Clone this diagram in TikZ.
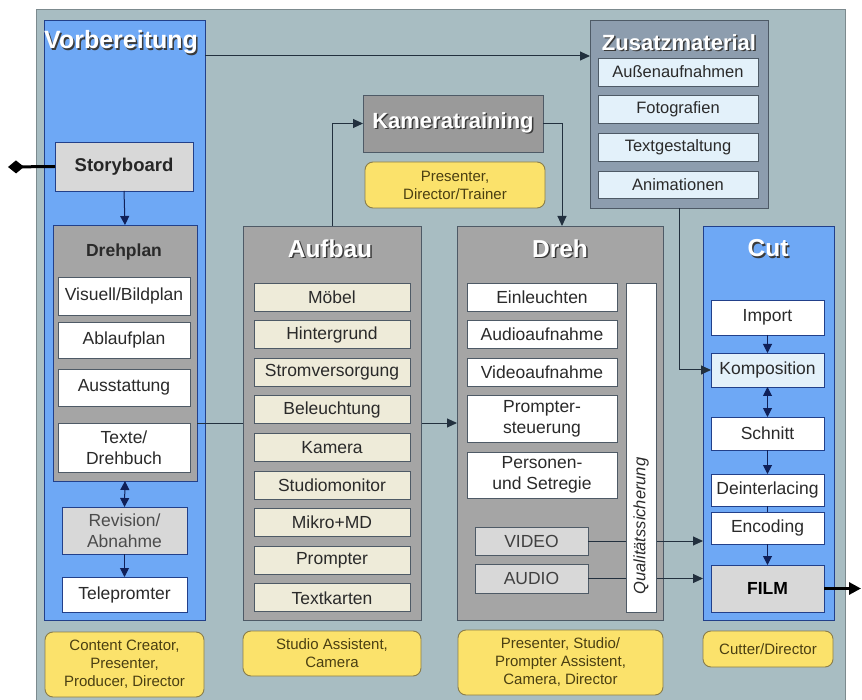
\documentclass[tikz,border=0pt]{standalone}
\usepackage{fontspec}
\setmainfont{Liberation Sans}
\usetikzlibrary{arrows.meta,calc}
\definecolor{bgc}{HTML}{A8BDC2}
\definecolor{bgborder}{HTML}{7C8A8E}
\definecolor{bluec}{HTML}{6EA8F5}
\definecolor{blueborder}{HTML}{22408A}
\definecolor{grayc}{HTML}{A5A5A5}
\definecolor{grayborder}{HTML}{4E5A66}
\definecolor{ktc}{HTML}{9A9A9A}
\definecolor{zusc}{HTML}{8D9DAE}
\definecolor{zusitem}{HTML}{E3F1FA}
\definecolor{creamc}{HTML}{EEEBD9}
\definecolor{lgray}{HTML}{D8D8D8}
\definecolor{yellowc}{HTML}{FBE26B}
\definecolor{yellowborder}{HTML}{8A7D4A}
\definecolor{yellowtext}{HTML}{4A3F12}
\definecolor{textc}{HTML}{2A2A2A}
\definecolor{linec}{HTML}{22303E}
\definecolor{navy}{HTML}{102058}
\definecolor{shadowc}{HTML}{3A3A3A}
\newcommand\shd[1]{\rlap{\kern1.5pt\raisebox{-1.5pt}{\color{shadowc}#1}}#1}
\begin{document}
\begin{tikzpicture}[x=1pt,y=-1pt,
  box/.style={draw=#1, line width=0.8pt, inner sep=1pt, outer sep=0pt, align=center, text=textc},
  box/.default=grayborder,
  itemf/.style={font=\fontsize{17.5}{21}\selectfont},
  zusf/.style={font=\fontsize{16.5}{19}\selectfont},
  yel/.style={draw=yellowborder, fill=yellowc, line width=0.9pt, rounded corners=8pt, inner sep=1pt, outer sep=0pt, align=center, text=yellowtext, font=\fontsize{15}{18}\selectfont},
  ttl/.style={text=white, inner sep=0pt, font=\bfseries\fontsize{24.5}{28}\selectfont},
  arr/.style={draw=linec, line width=1pt, -{Triangle[length=10pt,width=9pt]}},
  carr/.style={draw=navy, line width=1pt, -{Triangle[length=9pt,width=9pt]}},
  dcarr/.style={draw=navy, line width=1pt, {Triangle[length=9pt,width=9pt]}-{Triangle[length=9pt,width=9pt]}}
]
\useasboundingbox (0,0) rectangle (862,700);
\path[fill=bgc, draw=bgborder, line width=1pt] (36,10) rectangle (845,704);

% ---------- Vorbereitung ----------
\node[box=blueborder, fill=bluec, minimum width=161pt, minimum height=600pt] (vb) at (124.5,320) {};
\node[ttl, anchor=west, font=\bfseries\fontsize{25}{28}\selectfont] (vbt) at (44,43) {\shd{Vorbereitung}};

% ---------- Zusatzmaterial ----------
\node[box, fill=zusc, minimum width=178pt, minimum height=188pt] (zus) at (679,114) {};
\node[ttl, font=\bfseries\fontsize{22}{26}\selectfont] (zust) at (679,43) {\shd{Zusatzmaterial}};
\node[box, zusf, fill=zusitem, minimum width=160pt, minimum height=28pt] (za) at (678,72) {Außenaufnahmen};
\node[box, zusf, fill=zusitem, minimum width=160pt, minimum height=28pt] (zf) at (678,109.5) {Fotografien};
\node[box, zusf, fill=zusitem, minimum width=160pt, minimum height=28pt] (zt) at (678,147.5) {Textgestaltung};
\node[box, zusf, fill=zusitem, minimum width=160pt, minimum height=27pt] (zn) at (678,185) {Animationen};

\draw[arr] ([yshift=-36pt]vb.north east) -- ([yshift=-36pt]vb.north east -| zus.west);

% ---------- Kameratraining ----------
\node[box, fill=ktc, minimum width=180pt, minimum height=57pt, text=white, font=\bfseries\fontsize{22}{26}\selectfont] (kt) at (453,123.5) {\shd{Kameratraining}};
\node[yel, minimum width=180pt, minimum height=46pt] (y3) at (455,185) {Presenter,\\Director/Trainer};

% ---------- Dreh ----------
\node[box, fill=grayc, minimum width=206pt, minimum height=394pt] (dreh) at (560,423) {};
\node[ttl] (dreht) at (560,249) {\shd{Dreh}};

% ---------- Drehplan ----------
\node[box=blueborder, fill=grayc, minimum width=144pt, minimum height=256pt] (dp) at (125,353) {};
\node[inner sep=0pt, text=textc, font=\bfseries\fontsize{17.5}{21}\selectfont] (dpt) at (124,252) {Drehplan};
\node[box, itemf, fill=white, minimum width=132pt, minimum height=38pt] (vis) at (124,296) {Visuell/Bildplan};
\node[box, itemf, fill=white, minimum width=132pt, minimum height=36pt] (abl) at (124,340) {Ablaufplan};
\node[box, itemf, fill=white, minimum width=132pt, minimum height=37pt] (aus) at (124,387.5) {Ausstattung};
\node[box, itemf, fill=white, minimum width=132pt, minimum height=49pt] (txt) at (124,447.5) {Texte/\\Drehbuch};

% connector Drehplan -> Dreh (passes behind Aufbau)
\draw[arr] (txt.north -| dp.east) -- (txt.north -| dreh.west);

% ---------- Aufbau ----------
\node[box, fill=grayc, minimum width=178pt, minimum height=394pt] (auf) at (332,423) {};
\node[ttl] (auft) at (330,249) {\shd{Aufbau}};
\foreach \nm/\yy/\tx in {a1/297/Möbel, a2/334.6/Hintergrund, a3/372.2/Stromversorgung, a4/409.8/Beleuchtung, a5/447.4/Kamera, a6/485/Studiomonitor, a7/522.6/Mikro+MD, a8/560.2/Prompter, a9/597.8/Textkarten}
  \node[box, itemf, fill=creamc, minimum width=156pt, minimum height=28pt] (\nm) at (332,\yy) {\tx};

\draw[arr] (auf.north) |- (kt.west);
\draw[arr] (kt.east) -| ([xshift=2pt]dreh.north);

% ---------- Dreh items ----------
\node[box, itemf, fill=white, minimum width=150pt, minimum height=28pt] (d1) at (542,297) {Einleuchten};
\node[box, itemf, fill=white, minimum width=150pt, minimum height=28pt] (d2) at (542,334.5) {Audioaufnahme};
\node[box, itemf, fill=white, minimum width=150pt, minimum height=28pt] (d3) at (542,372.5) {Videoaufnahme};
\node[box, itemf, fill=white, minimum width=150pt, minimum height=47pt] (d4) at (542,418.5) {Prompter-\\steuerung};
\node[box, itemf, fill=white, minimum width=150pt, minimum height=46pt] (d5) at (542,475) {Personen-\\und Setregie};
\node[box, itemf, fill=lgray, minimum width=113pt, minimum height=28pt, text=black!75] (video) at (531.5,541) {VIDEO};
\node[box, itemf, fill=lgray, minimum width=113pt, minimum height=29pt, text=black!75] (audio) at (531.5,578.5) {AUDIO};

% ---------- Cut ----------
\node[box=blueborder, fill=bluec, minimum width=131pt, minimum height=394pt] (cut) at (768.5,423) {};
\node[ttl] (cutt) at (768,249) {\shd{Cut}};

\draw[arr] (video.east) -- (video.east -| cut.west);
\draw[arr] (audio.east) -- (audio.east -| cut.west);

\node[box, fill=white, minimum width=30pt, minimum height=329pt] (qs) at (641,447.5) {};
\node[rotate=90, inner sep=0pt, text=textc, font=\itshape\fontsize{16.5}{19}\selectfont] (qst) at (641,526) {Qualitätssicherung};

\node[box=blueborder, itemf, fill=white, minimum width=113pt, minimum height=35pt] (imp) at (767.5,317.5) {Import};
\node[box=blueborder, itemf, fill=zusitem, minimum width=113pt, minimum height=34pt] (komp) at (767.5,370) {Komposition};
\node[box=blueborder, itemf, fill=white, minimum width=113pt, minimum height=33pt] (sch) at (767.5,433.5) {Schnitt};
\node[box=blueborder, itemf, fill=white, minimum width=113pt, minimum height=32pt] (dei) at (767.5,490) {Deinterlacing};
\node[box=blueborder, itemf, fill=white, minimum width=113pt, minimum height=32pt] (enc) at (767.5,528) {Encoding};
\node[box=blueborder, fill=lgray, minimum width=113pt, minimum height=47pt, text=black, font=\bfseries\fontsize{17.5}{21}\selectfont] (film) at (767.5,588.5) {FILM};

\draw[carr] (imp.south) -- (komp.north);
\draw[dcarr] (komp.south) -- (sch.north);
\draw[carr] (sch.south) -- (dei.north);
\draw[draw=navy, line width=1pt] (dei.south) -- (enc.north);
\draw[carr] (enc.south) -- (film.north);

\draw[arr] (zus.south) |- (komp.west);

\coordinate (fout) at (861,588.5);
\draw[line width=3pt, -{Triangle[length=12pt,width=12pt]}] (film.east) -- (fout);

% ---------- Vorbereitung content ----------
\node[box=blueborder, fill=lgray, minimum width=138pt, minimum height=49pt, text=black!85, font=\bfseries\fontsize{18.5}{22}\selectfont] (sb) at (124,166.5) {Storyboard};
\node[box=blueborder, itemf, fill=lgray, minimum width=125pt, minimum height=47pt, text=black!70] (rev) at (124.5,530.5) {Revision/\\Abnahme};
\node[box=blueborder, itemf, fill=white, minimum width=125pt, minimum height=35pt] (tele) at (124.5,594.5) {Telepromter};

\coordinate (sbin) at (8,167);
\draw[line width=3pt, {Diamond[length=16pt,width=13pt]}-] (sbin) -- (sb.west);
\draw[carr] (sb.south) -- (dp.north);
\draw[dcarr] (dp.south) -- (rev.north);
\draw[carr] (rev.south) -- (tele.north);

% ---------- Role boxes ----------
\node[yel, minimum width=159pt, minimum height=65pt] (y1) at (124.5,664.5) {Content Creator,\\Presenter,\\Producer, Director};
\node[yel, minimum width=178pt, minimum height=45pt] (y2) at (332,653.5) {Studio Assistent,\\Camera};
\node[yel, minimum width=205pt, minimum height=65pt] (y4) at (560.5,662.5) {Presenter, Studio/\\Prompter Assistent,\\Camera, Director};
\node[yel, minimum width=130pt, minimum height=36pt] (y5) at (768,649) {Cutter/Director};
\end{tikzpicture}
\end{document}
